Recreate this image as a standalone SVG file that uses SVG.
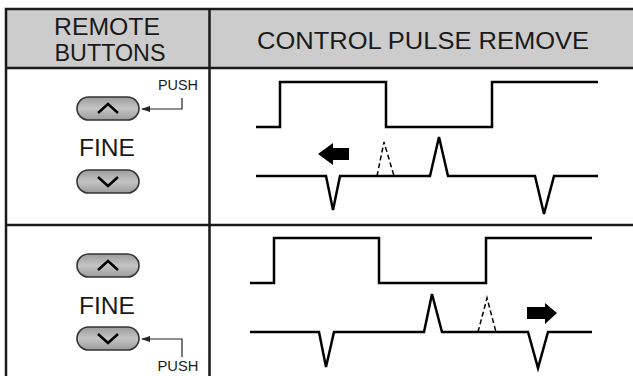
<svg xmlns="http://www.w3.org/2000/svg" width="633" height="376" viewBox="0 0 633 376">
<defs>
<style>
.t{font-family:"Liberation Sans",Arial,sans-serif;fill:#1a1a1a}
.grid{stroke:#1a1a1a;stroke-width:2.5;fill:none}
.wave{stroke:#000;stroke-width:2.5;fill:none;stroke-linejoin:miter}
.dash{stroke:#000;stroke-width:1.5;fill:none;stroke-dasharray:5,3}
.pill{fill:url(#pg);stroke:#333;stroke-width:1.6}
.chev{stroke:#000;stroke-width:2.5;fill:none}
.lead{stroke:#222;stroke-width:1.2;fill:none}
</style>
<linearGradient id="pg" x1="0" y1="0" x2="0" y2="1">
<stop offset="0" stop-color="#9c9c9c"/>
<stop offset="0.5" stop-color="#c4c4c4"/>
<stop offset="1" stop-color="#9c9c9c"/>
</linearGradient>
<marker id="ah" markerWidth="9" markerHeight="6" refX="8" refY="3" orient="auto" markerUnits="userSpaceOnUse">
<path d="M0,0 L9,3 L0,6 Z" fill="#222"/>
</marker>
</defs>

<g id="table">
<rect x="6" y="9" width="640" height="59" fill="#cccccc"/>
<path class="grid" d="M6,380 V9 H640 M6,68 H640 M6,225 H640 M209.5,9 V380"/>
</g>

<g id="header">
<text class="t" x="107" y="35" font-size="23" text-anchor="middle" textLength="106" lengthAdjust="spacingAndGlyphs">REMOTE</text>
<text class="t" x="110" y="61" font-size="23" text-anchor="middle" textLength="111" lengthAdjust="spacingAndGlyphs">BUTTONS</text>
<text class="t" x="423" y="49" font-size="24" text-anchor="middle" textLength="332" lengthAdjust="spacingAndGlyphs">CONTROL PULSE REMOVE</text>
</g>

<g id="row1-buttons">
<rect class="pill" x="77" y="97" width="62" height="23" rx="11.5"/>
<path class="chev" d="M98,113 L108,104 L118,113"/>
<rect class="pill" x="77" y="170" width="62" height="23" rx="11.5"/>
<path class="chev" d="M98,177 L108,186 L118,177"/>
<text class="t" x="107" y="156" font-size="24" text-anchor="middle" textLength="56" lengthAdjust="spacingAndGlyphs">FINE</text>
<text class="t" x="178" y="90" font-size="15" text-anchor="middle" textLength="40" lengthAdjust="spacingAndGlyphs">PUSH</text>
</g>

<g id="row2-buttons">
<rect class="pill" x="77" y="254" width="62" height="23" rx="11.5"/>
<path class="chev" d="M98,270 L108,261 L118,270"/>
<rect class="pill" x="77" y="327" width="62" height="23" rx="11.5"/>
<path class="chev" d="M98,334 L108,343 L118,334"/>
<text class="t" x="107" y="314" font-size="24" text-anchor="middle" textLength="56" lengthAdjust="spacingAndGlyphs">FINE</text>
<text class="t" x="178" y="371" font-size="15" text-anchor="middle" textLength="41" lengthAdjust="spacingAndGlyphs">PUSH</text>
</g>

<g id="connectors">
<path class="lead" d="M182,98 V109 H142" marker-end="url(#ah)"/>
<path class="lead" d="M182,357 V339 H142" marker-end="url(#ah)"/>
</g>

<g id="row1-waves">
<path class="wave" d="M256,127 H280 V82 H386 V127 H492 V82 H598"/>
<path class="wave" d="M256,176 H326 L333,210 L340,176 H430 L439,137 L448,176 H535 L544,214 L554,176 H598"/>
<path class="dash" d="M377,176 L384,142 L394,176"/>
<path d="M318,154 L333,143 V148 H349 V160 H333 V165 Z" fill="#000"/>
</g>

<g id="row2-waves">
<path class="wave" d="M250,283 H274 V238 H379 V283 H486 V238 H592"/>
<path class="wave" d="M250,332 H319 L326,367 L334,332 H424 L432,294 L442,332 H528 L538,368 L548,332 H592"/>
<path class="dash" d="M478,332 L487,298 L496,332"/>
<path d="M557,313 L545,303 V307 H527 V319 H545 V324 Z" fill="#000"/>
</g>
</svg>
